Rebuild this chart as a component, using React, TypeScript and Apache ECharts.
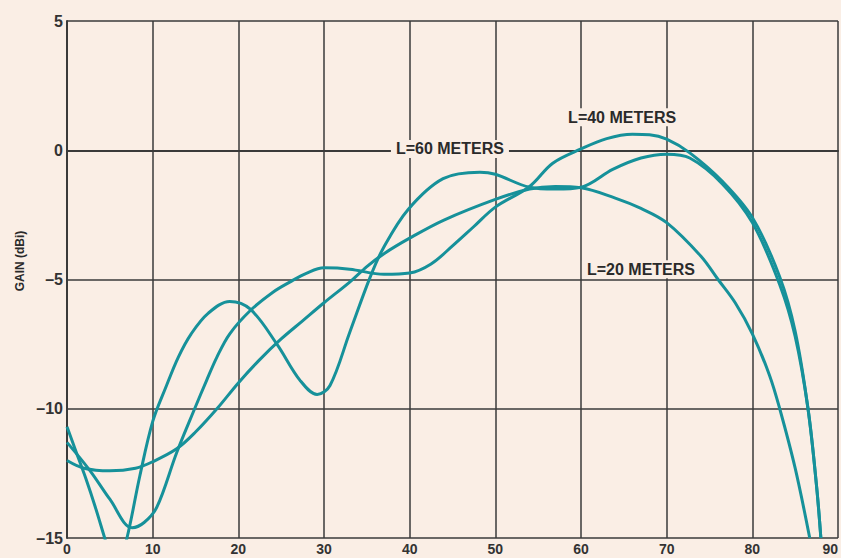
import React, { useEffect, useRef } from "react";
import * as echarts from "echarts";

// Elevation angle (deg) vs gain (dBi)
const L20: [number, number][] = [
  [0, -12.0], [2, -12.3], [5, -12.4], [8, -12.3], [10, -12.05], [12.8, -11.55], [15, -10.9],
  [17.5, -10.0], [20, -9.0], [22.5, -8.1], [25, -7.3], [27.5, -6.6], [30, -5.9], [33, -5.1],
  [35, -4.5], [37, -4.0], [40, -3.4], [44, -2.7], [50, -1.9], [54, -1.5], [57, -1.4],
  [60, -1.45], [64, -1.85], [67, -2.25], [70, -2.8], [74, -4.1], [76, -5.0], [78, -5.9],
  [80, -7.1], [82, -8.7], [83.2, -10], [85, -12.3], [86.7, -15],
];

const L40: [number, number][] = [
  [0, -11.3], [2.7, -12.4], [5, -13.5], [7.6, -14.6], [9, -14.4], [10.5, -13.8], [12.8, -11.7],
  [14.9, -10], [16.3, -8.9], [17.5, -8.0], [19, -7.1], [21.4, -6.2], [24, -5.5], [26, -5.1],
  [28, -4.75], [30, -4.55], [33, -4.6], [37, -4.8], [40, -4.75], [42.5, -4.4], [45, -3.7],
  [47.5, -2.95], [50, -2.2], [54, -1.4], [56.7, -0.5], [60, 0.05], [63, 0.45], [66, 0.62],
  [68, 0.6], [70, 0.43], [72.7, -0.1], [76.5, -1.2], [80, -2.6], [83.2, -4.9], [85, -7],
  [86.5, -10], [87.5, -13], [88, -15],
];

const L60: [number, number][] = [
  [0, -10.7], [1.1, -11.7], [2.2, -12.7], [3.3, -13.8], [4.4, -15], [5.7, -16.4], [7, -15],
  [8.5, -12.6], [10, -10.5], [11.5, -9.2], [13, -8.0], [14.5, -7.1], [16.5, -6.3], [19, -5.85],
  [21.4, -6.15], [24.5, -7.5], [27.2, -8.9], [29.2, -9.45], [30.7, -9.1], [33, -7.05],
  [35.4, -4.9], [36.9, -3.8], [39.8, -2.3], [43.9, -1.1], [48.2, -0.85], [50, -0.93],
  [54, -1.43], [57, -1.5], [60, -1.43], [63.7, -0.74], [67, -0.3], [70, -0.15], [72.7, -0.3],
  [76.5, -1.3], [80, -2.8], [83.2, -5.2], [85, -7.2], [86.5, -10], [87.5, -13], [88, -15],
];

const seriesNames = ["L=20 METERS", "L=40 METERS", "L=60 METERS"];
// label anchor points in data coordinates
const labelAnchors: [number, number][] = [[67.0, -4.6], [64.8, 1.28], [44.7, 0.05]];

const BG = "#faeee5";
const GRID = "#3a3a3a";
const TEAL = "#16919a";
const FONT = "'Liberation Sans', Arial, sans-serif";

export default function App() {
  const ref = useRef<HTMLDivElement>(null);
  useEffect(() => {
    document.body.style.margin = "0";
    const chart = echarts.init(ref.current!, null, { renderer: "svg" });
    const lineSeries = (name: string, data: [number, number][]) => ({
      name,
      type: "line",
      data,
      smooth: 0.35,
      showSymbol: false,
      clip: true,
      lineStyle: { color: TEAL, width: 3 },
      z: 3,
    });
    chart.setOption({
      animation: false,
      backgroundColor: BG,
      grid: { left: 67, right: 3, top: 21, bottom: 20, containLabel: false, outerBoundsMode: "none" },
      xAxis: {
        type: "value",
        min: 0,
        max: 90,
        interval: 10,
        axisLine: { show: true, lineStyle: { color: GRID, width: 2 } },
        axisTick: { show: false },
        splitLine: { show: true, lineStyle: { color: GRID, width: 1.5 } },
        axisLabel: {
          color: "#333",
          fontSize: 14,
          fontWeight: "bold",
          fontFamily: FONT,
          margin: 4,
          alignMaxLabel: "right",
        },
      },
      yAxis: {
        type: "value",
        min: -15,
        max: 5,
        interval: 5,
        axisLine: { show: true, lineStyle: { color: GRID, width: 2 } },
        axisTick: { show: false },
        splitLine: { show: true, lineStyle: { color: GRID, width: 1.5 } },
        axisLabel: {
          color: "#333",
          fontSize: 16,
          fontWeight: "bold",
          fontFamily: FONT,
          margin: 4,
          formatter: (v: number) => (v < 0 ? "–" + Math.abs(v) : String(v)),
        },
      },
      series: [lineSeries(seriesNames[0], L20), lineSeries(seriesNames[1], L40), lineSeries(seriesNames[2], L60)],
    });
    const labels = seriesNames.map((name, i) => {
      const p = chart.convertToPixel({ gridIndex: 0 }, labelAnchors[i]) as number[];
      return {
        type: "text",
        x: p[0],
        y: p[1],
        z: 10,
        style: {
          text: name,
          fill: "#2a2a2a",
          font: `bold 16px ${FONT}`,
          align: "center",
          verticalAlign: "middle",
          backgroundColor: BG,
          padding: [1, 5],
        },
      };
    });
    chart.setOption({
      graphic: [
        ...labels,
        {
          type: "text",
          x: 20,
          y: 261,
          rotation: Math.PI / 2,
          style: {
            text: "GAIN (dBi)",
            fill: "#2a2a2a",
            font: `bold 12px ${FONT}`,
            align: "center",
            verticalAlign: "middle",
          },
        },
      ],
    });
    return () => chart.dispose();
  }, []);
  return <div ref={ref} style={{ width: 841, height: 558 }} />;
}
